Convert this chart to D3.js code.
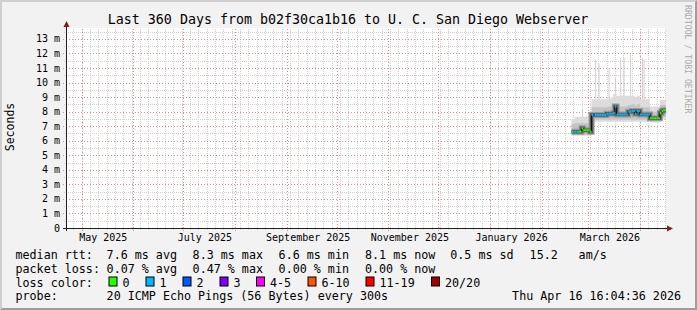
<!DOCTYPE html>
<html>
<head>
<meta charset="utf-8">
<script src="https://cdn.jsdelivr.net/npm/d3@7.9.0/dist/d3.min.js"></script>
<style>
  body { margin: 0; background: #f2f2f2; }
  svg { display: block; font-family: "DejaVu Sans Mono", monospace; }
</style>
</head>
<body>
<svg id="chart" width="697" height="310"></svg>
<script>
// time window of the graph
const endTime = new Date(2026, 3, 16, 16, 4, 36);
const startTime = new Date(endTime.getTime() - 360 * 864e5);
const firstDay = new Date(2026, 1, 19); // first day with data

// daily values from Feb 19 2026 (ms)
const medianMs = [6.62, 6.62, 6.62, 6.62, 6.62, 6.62, 6.85, 6.72, 6.72, 6.72, 6.72, 6.62,
  7.77, 7.77, 7.77, 7.77, 7.77, 7.77, 7.77, 7.77, 7.77, 7.85, 7.85, 7.85, 7.85, 7.9, 8.35,
  7.8, 7.8, 7.8, 7.8, 7.8, 7.8, 7.8, 8.0, 8.0, 8.05, 8.05, 7.85, 8.05, 8.05,
  7.8, 7.8, 7.8, 7.8, 7.8, 7.8, 7.55, 7.55, 7.55, 7.55, 7.55, 7.55, 7.9, 8.05, 8.1, 8.1];
const lossCount = [0, 1, 1, 1, 0, 0, 0, 0, 0, 0, 0, 0,
  1, 2, 1, 1, 1, 1, 1, 1, 1, 1, 1, 1, 1, 1, 1,
  1, 1, 1, 1, 1, 1, 1, 1, 1, 1, 1, 1, 1, 1,
  1, 1, 1, 1, 1, 1, 0, 0, 0, 0, 0, 0, 0, 0, 0, 0];
const smokeMin = [6.35, 6.35, 6.35, 6.35, 6.35, 6.35, 6.35, 6.35, 6.35, 6.35, 6.35, 6.35,
  7.3, 7.3, 7.3, 7.3, 7.3, 7.3, 7.3, 7.3, 7.3, 7.3, 7.3, 7.3, 7.3, 7.3, 7.3,
  7.3, 7.3, 7.3, 7.3, 7.3, 7.3, 7.3, 7.3, 7.3, 7.3, 7.3, 7.3, 7.3, 7.3,
  7.3, 7.3, 7.3, 7.3, 7.3, 7.3, 7.25, 7.25, 7.25, 7.25, 7.25, 7.25, 7.5, 7.5, 7.5, 7.5];
const smokeLo = [6.48, 6.48, 6.48, 6.48, 6.48, 6.48, 6.48, 6.48, 6.48, 6.48, 6.48, 6.48,
  7.45, 7.45, 7.45, 7.45, 7.45, 7.45, 7.45, 7.45, 7.45, 7.45, 7.45, 7.45, 7.45, 7.45, 7.45,
  7.45, 7.45, 7.45, 7.45, 7.45, 7.45, 7.45, 7.45, 7.45, 7.45, 7.45, 7.45, 7.45, 7.45,
  7.45, 7.45, 7.45, 7.45, 7.45, 7.45, 7.35, 7.35, 7.35, 7.35, 7.35, 7.35, 7.65, 7.65, 7.65, 7.65];
const smokeHi = [7.15, 7.15, 7.2, 7.2, 7.2, 7.2, 7.25, 7.2, 7.2, 7.2, 7.15, 7.15,
  8.3, 8.3, 8.3, 8.3, 8.3, 8.3, 8.3, 8.3, 8.3, 8.3, 8.35, 8.35, 8.35, 8.4, 8.55,
  8.35, 8.35, 8.35, 8.35, 8.35, 8.35, 8.4, 8.45, 8.45, 8.5, 8.5, 8.4, 8.5, 8.5,
  8.3, 8.3, 8.3, 8.3, 8.3, 8.3, 8.0, 8.0, 8.0, 8.0, 8.0, 8.0, 8.45, 8.45, 8.45, 8.45];
const smokeMax = [7.5, 7.5, 7.65, 7.65, 7.65, 7.65, 7.7, 7.65, 7.65, 7.65, 7.6, 7.6,
  8.85, 8.85, 8.85, 8.85, 8.85, 8.85, 8.85, 8.85, 8.85, 8.9, 8.9, 8.9, 9.0, 9.25, 9.3,
  9.1, 9.1, 9.15, 9.1, 9.1, 9.1, 9.1, 9.1, 9.1, 9.1, 9.1, 9.0, 9.1, 9.1,
  8.85, 8.85, 8.85, 8.85, 8.85, 8.85, 8.35, 8.35, 8.35, 8.35, 8.35, 8.35, 8.8, 8.8, 8.8, 8.8];
// single-sample outliers: [day index, top in ms]
const spikes = [[6, 8.16], [14, 11.6], [16, 11.3], [22, 11.0], [26, 10.3], [29, 11.7],
  [31, 11.7], [35, 11.95], [42, 11.7], [43, 11.55]];

const yTicks = d3.range(0, 14);
const lossLabels = ['0', '1', '2', '3', '4-5', '6-10', '11-19', '20/20'];
const lossColors = ['#26ff00', '#00b8ff', '#0059ff', '#7e00ff', '#ff00ff', '#ff5500', '#ff0000', '#a10000'];
const lossBins = [0, 1, 2, 3, 5, 10, 19, 20];
const rttStats = ['7.6 ms avg', '8.3 ms max', '6.6 ms min', '8.1 ms now', '0.5 ms sd', '15.2', 'am/s'];
const lossStats = ['0.07 % avg', '0.47 % max', '0.00 % min', '0.00 % now'];
const statX = [107.3, 193.3, 279.3, 365.7, 451, 530.3, 579.3];

const W = 697, H = 310;
const svg = d3.select('#chart');

// background with 3d border
svg.append('rect').attr('width', W).attr('height', H).attr('fill', '#f2f2f2');
svg.append('path').attr('d', `M0,${H}L2,${H - 2}L2,2L${W - 2},2L${W},0L0,0Z`).attr('fill', '#cfcfcf');
svg.append('path').attr('d', `M2,${H - 2}L${W - 2},${H - 2}L${W - 2},2L${W},0L${W},${H}L0,${H}Z`).attr('fill', '#9e9e9e');

const x = d3.scaleTime().domain([startTime, endTime]).range([66, 666]);
const y = d3.scaleLinear().domain([0, 13.75]).range([228, 28]);

// canvas
svg.append('rect').attr('x', 66).attr('y', 28).attr('width', 600).attr('height', 200).attr('fill', '#fff');

// grid: minor every 5 days / 0.5 ms, major every month / 1 ms
const grid = svg.append('g').attr('fill', 'none');
const months = d3.timeMonth.range(startTime, endTime);
const day0 = d3.timeDay.floor(startTime);
const fiveDays = d3.range(0, 361, 5).map((k) => d3.timeDay.offset(day0, k))
  .filter((d) => d >= startTime && d <= endTime);
const px = (v) => Math.round(v) + 0.5;
grid.selectAll('.vmin').data(fiveDays).join('line')
  .attr('x1', (d) => px(x(d))).attr('x2', (d) => px(x(d)))
  .attr('y1', 230).attr('y2', 28).attr('stroke', '#d0d0d0').attr('stroke-dasharray', '1,1');
grid.selectAll('.hmin').data(d3.range(0.5, 13.75, 1)).join('line')
  .attr('x1', 64).attr('x2', 666)
  .attr('y1', (d) => px(y(d))).attr('y2', (d) => px(y(d)))
  .attr('stroke', '#d0d0d0').attr('stroke-dasharray', '1,1');
grid.selectAll('.vmaj').data(months).join('line')
  .attr('x1', (d) => px(x(d))).attr('x2', (d) => px(x(d)))
  .attr('y1', 231).attr('y2', 28).attr('stroke', '#e58a8a').attr('stroke-dasharray', '1,2');
grid.selectAll('.hmaj').data(yTicks.slice(1)).join('line')
  .attr('x1', 63).attr('x2', 666)
  .attr('y1', (d) => px(y(d))).attr('y2', (d) => px(y(d)))
  .attr('stroke', '#e58a8a').attr('stroke-dasharray', '1,2');

// smoke
const days = medianMs.map((d, i) => d3.timeDay.offset(firstDay, i));
const idx = d3.range(medianMs.length + 1); // last one carries to end of graph
const tx = (i) => x(i < days.length ? days[i] : endTime);
const v = (arr, i) => arr[Math.min(i, arr.length - 1)];

const band = (lo, hi) => d3.area().curve(d3.curveStepAfter)
  .x((i) => tx(i)).y0((i) => y(v(lo, i))).y1((i) => y(v(hi, i)));

svg.append('path').datum(idx).attr('d', band(smokeMin, smokeMax)).attr('fill', '#dcdcdc');
svg.append('g').selectAll('rect').data(spikes).join('rect')
  .attr('x', (d) => x(d3.timeHour.offset(days[d[0]], 6)))
  .attr('width', (d) => x(d3.timeHour.offset(days[d[0]], 18)) - x(d3.timeHour.offset(days[d[0]], 6)))
  .attr('y', (d) => y(d[1]))
  .attr('height', (d) => y(smokeMax[d[0]]) - y(d[1]))
  .attr('fill', '#c6c6c6');
svg.append('path').datum(idx).attr('d', band(smokeLo, smokeHi)).attr('fill', '#c4c4c4');

const medLine = d3.line().curve(d3.curveStepAfter).x((i) => tx(i)).y((i) => y(v(medianMs, i)));
svg.append('path').datum(idx).attr('d', medLine).attr('fill', 'none')
  .attr('stroke', '#9a9a9a').attr('stroke-width', 6);
svg.append('path').datum(idx).attr('d', medLine).attr('fill', 'none')
  .attr('stroke', '#5a5a5a').attr('stroke-width', 3.5);
svg.append('path').datum(idx).attr('d', medLine).attr('fill', 'none')
  .attr('stroke', '#111').attr('stroke-width', 1);

// median coloured by packet loss
const lossColor = (n) => lossColors[lossBins.findIndex((b) => n <= b)];
svg.append('g').selectAll('line').data(days).join('line')
  .attr('x1', (d, i) => tx(i)).attr('x2', (d, i) => tx(i + 1))
  .attr('y1', (d, i) => y(medianMs[i])).attr('y2', (d, i) => y(medianMs[i]))
  .attr('stroke', (d, i) => lossColor(lossCount[i])).attr('stroke-width', 2);

// axes
svg.append('line').attr('x1', 66.5).attr('x2', 66.5).attr('y1', 231).attr('y2', 24).attr('stroke', '#1f1f1f');
svg.append('line').attr('x1', 63).attr('x2', 669).attr('y1', 228.5).attr('y2', 228.5).attr('stroke', '#1f1f1f');
svg.append('path').attr('d', 'M63.5,27L66.5,21L69.5,27Z').attr('fill', '#801f1f');
svg.append('path').attr('d', 'M667,225.5L673,228.5L667,231.5Z').attr('fill', '#801f1f');

// y labels
svg.append('g').selectAll('text').data(yTicks).join('text')
  .attr('x', 60).attr('y', (d) => y(d) + 3.5)
  .attr('text-anchor', 'end').attr('font-size', 10)
  .text((d) => (d === 0 ? '0' : `${d} m`));

// x labels, every second month
svg.append('g').selectAll('text').data(months.filter((m) => m.getMonth() % 2 === 0)).join('text')
  .attr('x', (d) => x(d3.timeDay.offset(d, 13)))
  .attr('y', 241).attr('text-anchor', 'middle').attr('font-size', 10)
  .text((d) => d3.timeFormat('%B %Y')(d));

// titles
svg.append('text').attr('x', 348).attr('y', 23.5).attr('text-anchor', 'middle')
  .attr('font-size', 13.3).text('Last 360 Days from b02f30ca1b16 to U. C. San Diego Webserver');
svg.append('text').attr('transform', 'translate(14,127) rotate(-90)')
  .attr('text-anchor', 'middle').attr('font-size', 11.5).text('Seconds');
svg.append('text').attr('transform', 'translate(685,5) rotate(90)')
  .attr('font-size', 8.2).attr('fill', '#aaaaaa').text('RRDTOOL / TOBI OETIKER');

// legend
const leg = svg.append('g').attr('font-size', 11.7);
leg.append('text').attr('x', 15.5).attr('y', 258.5).text('median rtt:');
leg.selectAll('.rtt').data(rttStats).join('text').attr('x', (d, i) => statX[i] - 0.7).attr('y', 258.5).text((d) => d);
leg.append('text').attr('x', 15.5).attr('y', 272.5).text('packet loss:');
leg.selectAll('.pl').data(lossStats).join('text').attr('x', (d, i) => statX[i] - 0.7).attr('y', 272.5).text((d) => d);
leg.append('text').attr('x', 15.5).attr('y', 286.5).text('loss color:');
const swX = [108.5, 145.5, 182.5, 219.5, 256, 307.5, 365.5, 431];
leg.selectAll('.sw').data(lossColors).join('rect')
  .attr('x', (d, i) => swX[i] + 0.5).attr('y', 277).attr('width', 8).attr('height', 9)
  .attr('fill', (d) => d).attr('stroke', '#000');
leg.selectAll('.sl').data(lossLabels).join('text')
  .attr('x', (d, i) => swX[i] + 14).attr('y', 286.5).text((d) => d);
leg.append('text').attr('x', 15.5).attr('y', 300).text('probe:');
leg.append('text').attr('x', 106.6).attr('y', 300).text('20 ICMP Echo Pings (56 Bytes) every 300s');
leg.append('text').attr('x', 681).attr('y', 300).attr('text-anchor', 'end').text('Thu Apr 16 16:04:36 2026');
</script>
</body>
</html>
